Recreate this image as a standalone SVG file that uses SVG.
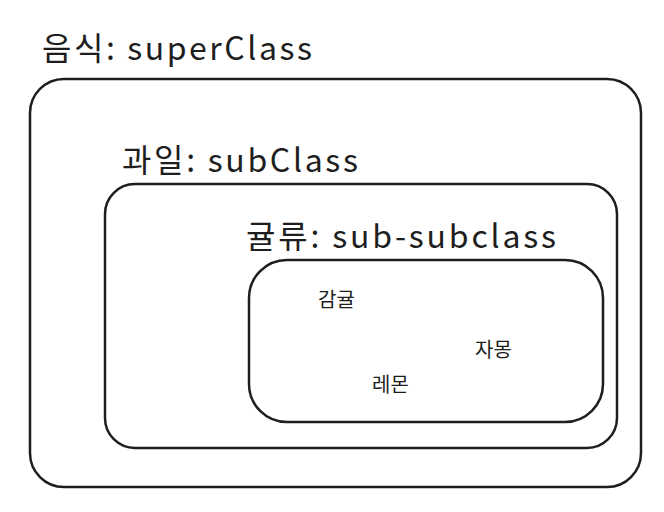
<svg xmlns="http://www.w3.org/2000/svg" width="664" height="512" viewBox="0 0 664 512">
<style>
.box{fill:none;stroke:#1e1e1e;stroke-width:2.5;stroke-linecap:round}
.title{font-family:"Noto Sans CJK KR","Noto Sans",sans-serif;font-size:32px;fill:#1e1e1e}
.item{font-family:"Noto Sans CJK KR","Noto Sans",sans-serif;font-size:20px;fill:#1e1e1e}
</style>
<rect width="664" height="512" fill="#ffffff"/>
<g id="superClass">
<rect class="box" x="30" y="79" width="611" height="408" rx="34" ry="34"/>
<text class="title" x="42" y="60" textLength="270" lengthAdjust="spacing">음식: superClass</text>
</g>
<g id="subClass">
<rect class="box" x="105" y="184" width="512" height="264" rx="30" ry="30"/>
<text class="title" x="122" y="172" textLength="236" lengthAdjust="spacing">과일: subClass</text>
</g>
<g id="subsubclass">
<rect class="box" x="249" y="260" width="354" height="162" rx="38" ry="38"/>
<text class="title" x="246" y="248" textLength="310" lengthAdjust="spacing">귤류: sub-subclass</text>
</g>
<g id="items">
<text class="item" x="318" y="307">감귤</text>
<text class="item" x="475" y="357">자몽</text>
<text class="item" x="372" y="392">레몬</text>
</g>
<g id="connectors"></g>
</svg>
